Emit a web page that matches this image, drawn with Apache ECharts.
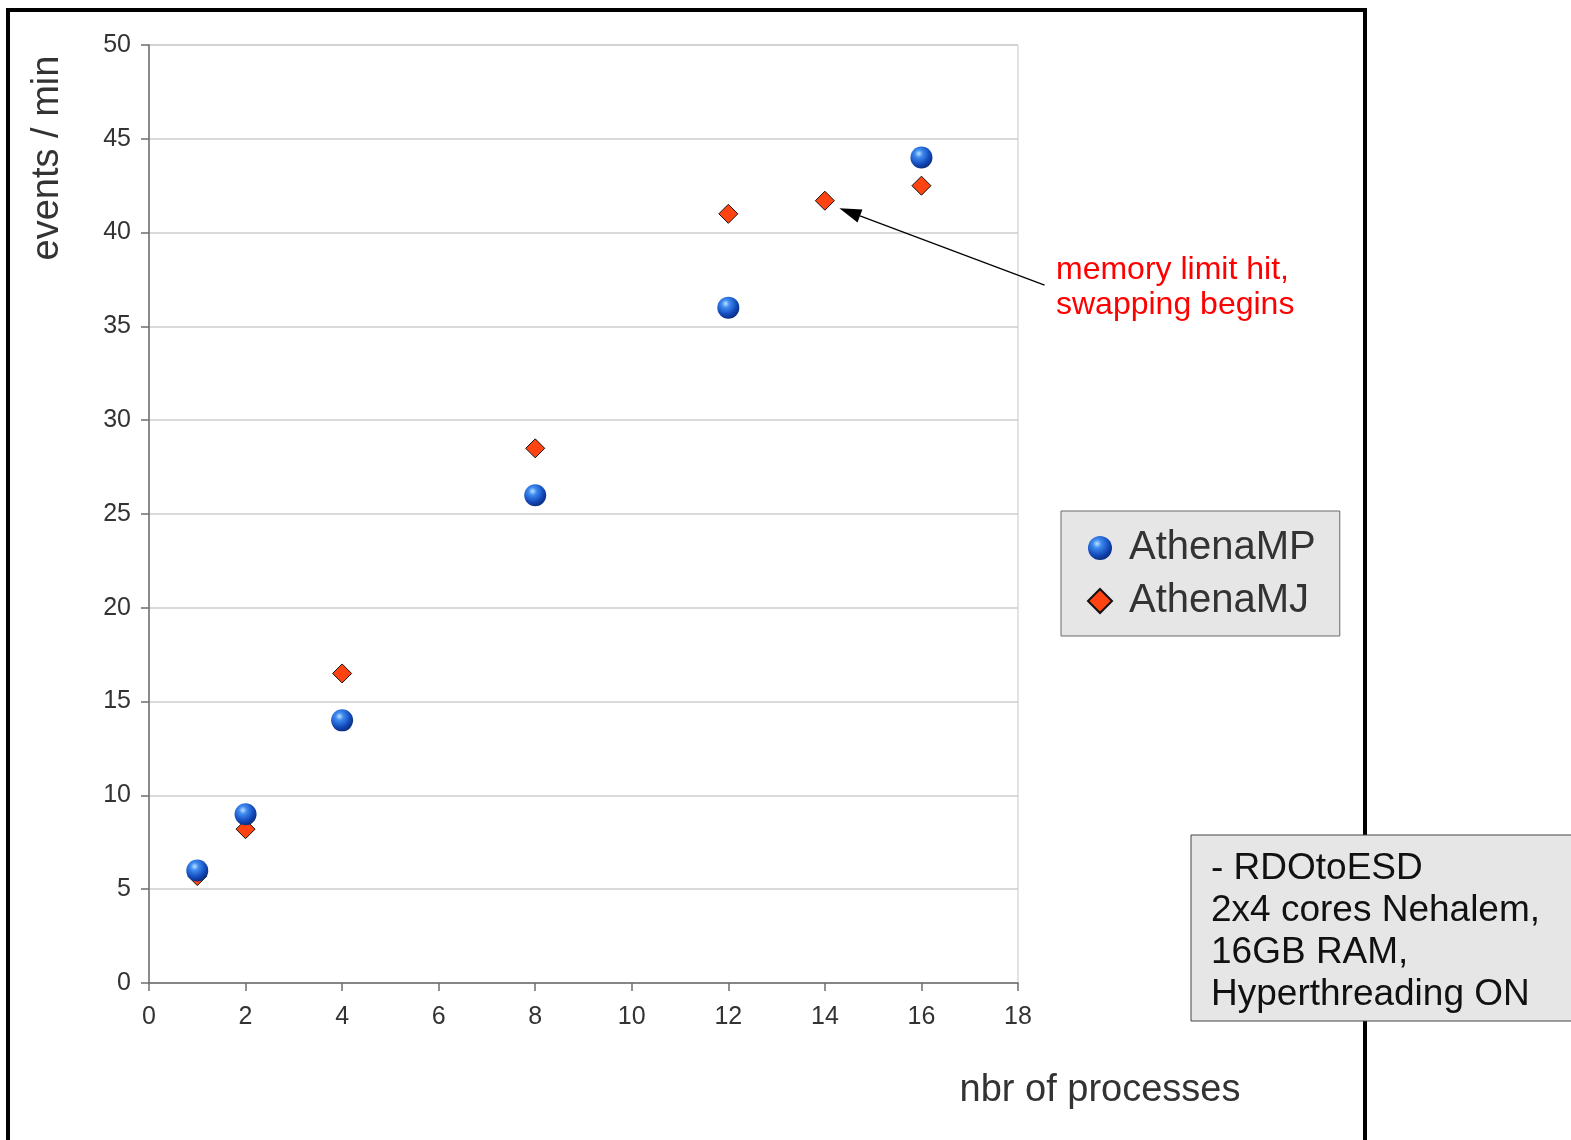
<!DOCTYPE html>
<html>
<head>
<meta charset="utf-8">
<script src="https://cdn.jsdelivr.net/npm/echarts@6/dist/echarts.min.js"></script>
<style>
  html, body { margin: 0; padding: 0; background: #fff; }
  #chart { width: 1571px; height: 1140px; }
</style>
</head>
<body>
<div id="chart"></div>
<script>
// data
var nbrProcessesMP = [1, 2, 4, 8, 12, 16]
var athenaMP = [6, 9, 14, 26, 36, 44]
var nbrProcessesMJ = [1, 2, 4, 8, 12, 14, 16]
var athenaMJ = [5.7, 8.2, 16.5, 28.5, 41, 41.7, 42.5]
var yTicks = [0, 5, 10, 15, 20, 25, 30, 35, 40, 45, 50]
var xTicks = [0, 2, 4, 6, 8, 10, 12, 14, 16, 18]
// arrow for the annotation, in data units (tip, tail)
var arrowTip = [14.3, 41.3]
var arrowTail = [18.55, 37.2]

var FONT = 'Liberation Sans, Arial, sans-serif'

function pairs(xs, ys) {
  var out = []
  for (var i = 0; i < xs.length; i++) {
    out.push([xs[i], ys[i]])
  }
  return out
}

var chart = echarts.init(document.getElementById('chart'))

var sphere = {
  type: 'radial',
  x: 0.38,
  y: 0.32,
  r: 0.72,
  colorStops: [
    { offset: 0, color: '#bfe0ff' },
    { offset: 0.25, color: '#3d8bf0' },
    { offset: 0.7, color: '#1248b8' },
    { offset: 1, color: '#0a2a78' }
  ]
}

chart.setOption({
  animation: false,
  backgroundColor: '#fff',
  grid: {
    left: 149,
    top: 45,
    right: 553,
    bottom: 157,
    show: true,
    borderColor: '#c8c8c8',
    borderWidth: 1
  },
  xAxis: {
    type: 'value',
    min: xTicks[0],
    max: xTicks[xTicks.length - 1],
    interval: 2,
    axisLine: { onZero: false, lineStyle: { color: '#6e6e6e', width: 1.5 } },
    axisTick: { show: true, length: 8, lineStyle: { color: '#6e6e6e', width: 1.5 } },
    axisLabel: { fontSize: 25, color: '#333', fontFamily: FONT, margin: 22 },
    splitLine: { show: false }
  },
  yAxis: {
    type: 'value',
    min: yTicks[0],
    max: yTicks[yTicks.length - 1],
    interval: 5,
    axisLine: { show: true, onZero: false, lineStyle: { color: '#6e6e6e', width: 1.5 } },
    axisTick: { show: true, length: 8, lineStyle: { color: '#6e6e6e', width: 1.5 } },
    axisLabel: { fontSize: 25, color: '#333', fontFamily: FONT, margin: 18 },
    splitLine: { show: true, lineStyle: { color: '#cccccc', width: 1.5 } }
  },
  legend: {
    orient: 'vertical',
    left: 1061,
    top: 511,
    data: ['AthenaMP', 'AthenaMJ'],
    backgroundColor: '#e6e6e6',
    borderColor: '#6a6a6a',
    borderWidth: 1,
    padding: [17, 24, 15, 26],
    itemGap: 13,
    itemWidth: 24,
    itemHeight: 24,
    textStyle: { fontSize: 40, color: '#333', fontFamily: FONT, padding: [0, 0, 0, 12] }
  },
  series: [
    {
      name: 'AthenaMJ',
      type: 'scatter',
      symbol: 'diamond',
      symbolSize: 19,
      data: pairs(nbrProcessesMJ, athenaMJ),
      itemStyle: { color: '#ff4411', borderColor: '#111', borderWidth: 1, opacity: 1 },
      z: 2
    },
    {
      name: 'AthenaMP',
      type: 'scatter',
      symbol: 'circle',
      symbolSize: 22,
      data: pairs(nbrProcessesMP, athenaMP),
      itemStyle: { color: sphere, opacity: 1 },
      z: 3
    }
  ]
})

// annotations and frame, placed after the axes exist
var tip = chart.convertToPixel({ gridIndex: 0 }, arrowTip)
var tail = chart.convertToPixel({ gridIndex: 0 }, arrowTail)
var ang = Math.atan2(tail[1] - tip[1], tail[0] - tip[0])
var headLen = 22
var headW = 7
var bx = tip[0] + Math.cos(ang) * headLen
var by = tip[1] + Math.sin(ang) * headLen
var px = -Math.sin(ang) * headW
var py = Math.cos(ang) * headW

chart.setOption({
  graphic: [
    {
      type: 'rect',
      shape: { x: 8, y: 10, width: 1357, height: 1150 },
      style: { fill: null, stroke: '#000', lineWidth: 4 },
      z: 1,
      silent: true
    },
    {
      type: 'text',
      x: 48,
      y: 158,
      rotation: Math.PI / 2,
      style: {
        text: 'events / min',
        font: '38px ' + FONT,
        fill: '#333',
        textAlign: 'center',
        textVerticalAlign: 'middle'
      }
    },
    {
      type: 'text',
      x: 1100,
      y: 1091,
      style: {
        text: 'nbr of processes',
        font: '38px ' + FONT,
        fill: '#333',
        textAlign: 'center',
        textVerticalAlign: 'middle'
      }
    },
    {
      type: 'line',
      shape: { x1: bx, y1: by, x2: tail[0], y2: tail[1] },
      style: { stroke: '#000', lineWidth: 1.2 },
      z: 10
    },
    {
      type: 'polygon',
      shape: { points: [[tip[0], tip[1]], [bx + px, by + py], [bx - px, by - py]] },
      style: { fill: '#000' },
      z: 10
    },
    {
      type: 'text',
      x: 1056,
      y: 253,
      style: {
        text: 'memory limit hit,\nswapping begins',
        font: '32px ' + FONT,
        lineHeight: 35,
        fill: '#ff0000'
      }
    },
    {
      type: 'rect',
      shape: { x: 1191, y: 835, width: 400, height: 186 },
      style: { fill: '#e6e6e6', stroke: '#444', lineWidth: 1 },
      z: 20
    },
    {
      type: 'text',
      x: 1211,
      y: 848,
      z: 21,
      style: {
        text: '- RDOtoESD\n2x4 cores Nehalem,\n16GB RAM,\nHyperthreading ON',
        font: '37px ' + FONT,
        lineHeight: 42,
        fill: '#111'
      }
    }
  ]
})
</script>
</body>
</html>
